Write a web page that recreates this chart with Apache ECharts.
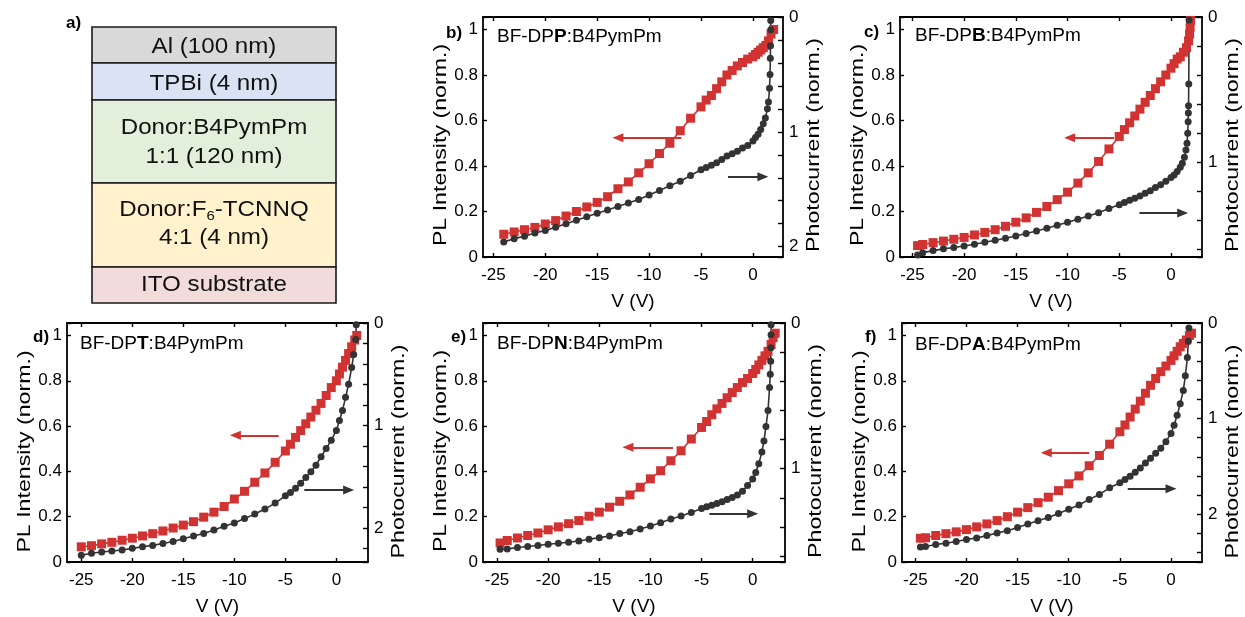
<!DOCTYPE html>
<html>
<head>
<meta charset="utf-8">
<title>PL intensity and photocurrent</title>
<script src="https://cdn.jsdelivr.net/npm/echarts@6/dist/echarts.min.js"></script>
<style>html,body{margin:0;padding:0;background:#fff;}</style>
</head>
<body>
<div id="main" style="width:1245px;height:617px;"></div>
<script>
// voltage steps shared by most sweeps
var stepV = [-24,-23,-22,-21,-20,-19,-18,-17,-16,-15,-14,-13,-12,-11,-10,-9,-8,-7,-6,-5];
var halfV = [-4.5,-4,-3.5,-3,-2.5,-2,-1.5,-1,-0.5];
var xTicks = [-25,-20,-15,-10,-5,0];

// b) BF-DPP
var bPlV = stepV.concat(halfV, [0,0.25,0.5,0.75,1,1.25,1.5,1.75,2]);
var bPl = [0.10,0.11,0.12,0.13,0.145,0.16,0.18,0.20,0.22,0.24,0.265,0.30,0.33,0.37,0.41,0.455,0.50,0.555,0.61,0.66,
  0.69,0.71,0.74,0.77,0.80,0.82,0.84,0.855,0.87,
  0.88,0.89,0.90,0.91,0.92,0.93,0.95,0.98,1.0];
var bPcV = stepV.concat(halfV, [0,0.25,0.5,0.75,1,1.2,1.4,1.5,1.6,1.65,1.68,1.7,1.72,1.72]);
var bPc = [1.96,1.93,1.91,1.88,1.86,1.83,1.80,1.77,1.74,1.71,1.68,1.65,1.62,1.59,1.55,1.51,1.47,1.43,1.38,1.33,
  1.31,1.29,1.27,1.24,1.21,1.19,1.17,1.14,1.12,
  1.08,1.05,1.02,0.98,0.93,0.88,0.80,0.74,0.62,0.50,0.36,0.25,0.11,0.03];

// c) BF-DPB
var cPlV = [-24.5].concat(stepV, halfV, [0,0.3,0.6,0.9,1.2,1.5,1.7,1.8,1.85,1.9]);
var cPl = [0.05,
  0.055,0.063,0.07,0.078,0.086,0.097,0.108,0.12,0.135,0.153,0.172,0.196,0.222,0.252,0.285,0.325,0.37,0.42,0.475,0.53,
  0.56,0.59,0.62,0.65,0.68,0.71,0.74,0.77,0.80,
  0.83,0.85,0.87,0.88,0.90,0.92,0.95,0.98,1.01,1.04];
var cPcV = [-24.5].concat(stepV, halfV, [0,0.3,0.6,0.9,1.1,1.3,1.45,1.55,1.62,1.66,1.68,1.7,1.72,1.75]);
var cPc = [1.636,
  1.62,1.606,1.594,1.585,1.574,1.562,1.549,1.535,1.521,1.505,1.489,1.471,1.452,1.432,1.411,1.39,1.368,1.345,1.317,1.29,
  1.276,1.26,1.246,1.23,1.212,1.194,1.173,1.153,1.13,
  1.104,1.086,1.063,1.033,1.006,0.964,0.914,0.868,0.80,0.72,0.66,0.61,0.46,0.02];

// d) BF-DPT
var dPlV = [-25].concat(stepV, halfV, [0,0.3,0.6,0.9,1.2,1.5,1.8,2.0]);
var dPl = [0.067,0.072,0.08,0.087,0.096,0.105,0.115,0.125,0.137,0.15,0.163,0.178,0.198,0.22,0.245,0.278,0.312,0.352,0.393,0.44,0.49,
  0.52,0.55,0.58,0.61,0.64,0.67,0.70,0.735,0.77,
  0.80,0.83,0.86,0.89,0.92,0.95,0.98,1.0];
var dPcV = [-25].concat(stepV, halfV, [0,0.3,0.6,0.9,1.2,1.5,1.7,1.9,1.95]);
var dPc = [2.265,2.245,2.232,2.222,2.213,2.197,2.181,2.168,2.149,2.13,2.103,2.077,2.052,2.019,1.981,1.949,1.907,1.862,1.814,1.756,1.685,
  1.652,1.611,1.562,1.507,1.449,1.386,1.304,1.224,1.144,
  1.047,0.951,0.854,0.725,0.596,0.435,0.306,0.161,0.016];

// e) BF-DPN
var ePlV = [-24.7].concat(stepV, halfV, [0,0.3,0.6,0.9,1.2,1.5,1.8,2.0,2.2]);
var ePl = [0.084,
  0.095,0.106,0.117,0.128,0.142,0.155,0.169,0.183,0.202,0.22,0.242,0.268,0.296,0.33,0.367,0.403,0.447,0.491,0.543,0.594,
  0.62,0.65,0.676,0.70,0.725,0.748,0.77,0.792,0.81,
  0.832,0.85,0.87,0.89,0.91,0.93,0.96,0.99,1.01];
var ePcV = [-24.7].concat(stepV, halfV, [0,0.3,0.6,0.9,1.1,1.3,1.5,1.65,1.72,1.76,1.78,1.8,1.8]);
var ePc = [1.552,
  1.55,1.541,1.534,1.527,1.518,1.511,1.504,1.496,1.484,1.473,1.461,1.445,1.432,1.413,1.393,1.37,1.345,1.325,1.3,1.273,
  1.261,1.25,1.239,1.227,1.211,1.198,1.18,1.155,1.115,
  1.07,1.025,0.965,0.885,0.81,0.71,0.60,0.443,0.352,0.262,0.17,0.08,0.012];

// f) BF-DPA
var fPlV = [-24.5].concat(stepV, halfV, [0,0.3,0.6,0.9,1.2,1.5,1.8,2.0]);
var fPl = [0.105,
  0.107,0.117,0.125,0.133,0.143,0.155,0.168,0.183,0.2,0.22,0.24,0.262,0.286,0.315,0.345,0.38,0.425,0.47,0.52,0.575,
  0.605,0.64,0.675,0.71,0.745,0.78,0.81,0.84,0.865,
  0.89,0.91,0.93,0.95,0.965,0.98,1.0,1.01];
var fPcV = [-24.5].concat(stepV, halfV, [0,0.3,0.6,0.9,1.2,1.4,1.6,1.7,1.75]);
var fPc = [2.344,
  2.337,2.317,2.303,2.286,2.265,2.248,2.224,2.196,2.172,2.138,2.103,2.068,2.034,1.993,1.948,1.903,1.845,1.793,1.724,1.672,
  1.638,1.603,1.562,1.517,1.465,1.414,1.362,1.31,1.241,
  1.155,1.069,0.966,0.845,0.707,0.552,0.362,0.19,0.052];

// arrows: [tail V, head V, PL level]
var redArrows = [[-6.9,-13,0.524],[-5.5,-9.8,0.524],[-5.65,-9.9,0.559],[-7.8,-12.2,0.506],[-8,-12.2,0.482]];
var blackArrows = [[-2.4,0.96,0.353],[-3.05,1.13,0.193],[-3.14,1.2,0.318],[-4.23,0,0.213],[-4.23,0,0.323]];

var layerText = ['Al (100 nm)','TPBi (4 nm)','Donor:B4PymPm','1:1 (120 nm)','Donor:F6-TCNNQ','4:1 (4 nm)','ITO substrate'];

var FONT = "'Liberation Sans', Arial, Helvetica, sans-serif";
var RED = '#d13232';
var BLACK = '#333333';

var panels = [
  {key:'b', letter:'P', grid:{left:483, top:17, width:300, height:240}, xMin:-26, xMax:2.9, pcMax:2.09,
   plV:bPlV, pl:bPl, pcV:bPcV, pc:bPc, lab:[446,33], title:[497,37]},
  {key:'c', letter:'B', grid:{left:900, top:17, width:302, height:240}, xMin:-26.2, xMax:3.0, pcMax:1.65,
   plV:cPlV, pl:cPl, pcV:cPcV, pc:cPc, lab:[864,32], title:[915,36]},
  {key:'d', letter:'T', grid:{left:67, top:323, width:301, height:241}, xMin:-26.4, xMax:3.1, pcMax:2.33,
   plV:dPlV, pl:dPl, pcV:dPcV, pc:dPc, lab:[33,337], title:[80,344]},
  {key:'e', letter:'N', grid:{left:483, top:323, width:302, height:240}, xMin:-26.37, xMax:3.16, pcMax:1.64,
   plV:ePlV, pl:ePl, pcV:ePcV, pc:ePc, lab:[451,337], title:[497,344]},
  {key:'f', letter:'A', grid:{left:902, top:323, width:300, height:241}, xMin:-26.3, xMax:3.03, pcMax:2.5,
   plV:fPlV, pl:fPl, pcV:fPcV, pc:fPc, lab:[865,337], title:[915,345]}
];

function zip(xs, ys) {
  var out = [];
  for (var i = 0; i < xs.length; i++) out.push([xs[i], ys[i]]);
  return out;
}

var axisLineStyle = {color:'#000', width:1.8};
var tickStyle = {color:'#000', width:1.4};
var labelStyle = {color:'#000', fontSize:17, fontFamily:FONT};
var nameStyle = {color:'#000', fontSize:19, fontFamily:FONT};

var grids = [], xAxes = [], yAxes = [], series = [], graphics = [];

// rotated axis title, stretched along its length like the original
function sideName(text, x, y) {
  return {type:'text', x:x, y:y, rotation:Math.PI / 2, scaleX:1.22,
    style:{text:text, align:'center', verticalAlign:'middle', fontSize:19, fontFamily:FONT, fill:'#000'}};
}

panels.forEach(function (p, i) {
  var g = p.grid;
  grids.push({left:g.left, top:g.top, width:g.width, height:g.height, containLabel:false});
  xAxes.push({
    gridIndex:i, type:'value', position:'bottom', min:p.xMin, max:p.xMax,
    axisLine:{lineStyle:axisLineStyle, onZero:false},
    axisTick:{inside:true, length:4, lineStyle:tickStyle, customValues:xTicks},
    axisLabel:Object.assign({margin:10, customValues:xTicks}, labelStyle),
    splitLine:{show:false},
    name:'V (V)', nameLocation:'middle', nameGap:35, nameTextStyle:nameStyle
  });
  xAxes.push({
    gridIndex:i, type:'value', position:'top', min:p.xMin, max:p.xMax,
    axisLine:{lineStyle:axisLineStyle, onZero:false},
    axisTick:{inside:true, length:4, lineStyle:tickStyle, customValues:xTicks},
    axisLabel:{show:false}, splitLine:{show:false}
  });
  yAxes.push({
    gridIndex:i, type:'value', position:'left', min:0, max:1.055, interval:0.2,
    axisLine:{show:true, lineStyle:axisLineStyle, onZero:false},
    axisTick:{show:true, inside:true, length:4, lineStyle:tickStyle},
    axisLabel:Object.assign({margin:5, formatter:function (v) {
      var r = Math.round(v * 5) / 5;
      return (Math.abs(v - r) < 1e-6 && v < 1.01) ? String(+r.toFixed(1)) : '';
    }}, labelStyle),
    splitLine:{show:false}
  });
  yAxes.push({
    gridIndex:i, type:'value', position:'right', min:0, max:p.pcMax, interval:0.2, inverse:true,
    axisLine:{show:true, lineStyle:axisLineStyle, onZero:false},
    axisTick:{show:true, inside:true, length:5, lineStyle:tickStyle},
    axisLabel:Object.assign({margin:6, formatter:function (v) {
      return Math.abs(v - Math.round(v)) < 1e-6 ? String(Math.round(v)) : '';
    }}, labelStyle),
    splitLine:{show:false}
  });

  var ra = redArrows[i], ba = blackArrows[i];
  series.push({
    type:'line', xAxisIndex:2 * i, yAxisIndex:2 * i, data:zip(p.plV, p.pl),
    symbol:'rect', symbolSize:9, showSymbol:true,
    itemStyle:{color:RED}, lineStyle:{color:RED, width:1.6},
    markLine:{
      silent:true, symbol:['none','triangle'], symbolSize:[9,11], label:{show:false},
      lineStyle:{type:'solid', width:2},
      data:[
        [{coord:[ra[0], ra[2]], lineStyle:{color:RED}, itemStyle:{color:RED}}, {coord:[ra[1], ra[2]]}],
        [{coord:[ba[0], ba[2]], lineStyle:{color:BLACK}, itemStyle:{color:BLACK}}, {coord:[ba[1], ba[2]]}]
      ]
    }
  });
  series.push({
    type:'line', xAxisIndex:2 * i, yAxisIndex:2 * i + 1, data:zip(p.pcV, p.pc),
    symbol:'circle', symbolSize:7, showSymbol:true,
    itemStyle:{color:BLACK}, lineStyle:{color:BLACK, width:1.6}
  });

  var midY = g.top + g.height / 2 + 8;
  graphics.push(sideName('PL Intensity (norm.)', g.left - 42, midY));
  graphics.push(sideName('Photocurrent (norm.)', g.left + g.width + 31, midY));
  graphics.push({type:'text', x:p.lab[0], y:p.lab[1],
    style:{text:p.key + ')', fontSize:17, fontWeight:'bold', fontFamily:FONT, fill:'#000', verticalAlign:'middle'}});
  graphics.push({type:'text', x:p.title[0], y:p.title[1],
    style:{text:'{n|BF-DP}{b|' + p.letter + '}{n|:B4PymPm}', verticalAlign:'middle',
      rich:{n:{fontSize:19, fontFamily:FONT, fill:'#000'}, b:{fontSize:19, fontFamily:FONT, fontWeight:'bold', fill:'#000'}}}});
});

// a) device stack
var stackLeft = 92, stackRight = 336;
var bounds = [27, 63, 100, 183, 267, 303];
var fills = ['#d9d9d9', '#dae3f3', '#e2efda', '#fff2cc', '#f2dcdb'];
for (var k = 0; k < 5; k++) {
  graphics.push({type:'rect', shape:{x:stackLeft, y:bounds[k], width:stackRight - stackLeft, height:bounds[k + 1] - bounds[k]},
    style:{fill:fills[k], stroke:'#1a1a1a', lineWidth:1.6}});
}
var cx = (stackLeft + stackRight) / 2;
var rowY = [47, 84, 128, 157, 210, 238, 285];
var baseRich = {n:{fontSize:21, fontFamily:FONT, fill:'#111', lineHeight:24},
  s:{fontSize:13, fontFamily:FONT, fill:'#111', lineHeight:12, verticalAlign:'bottom'}};
layerText.forEach(function (t, j) {
  var txt = t.indexOf('F6') >= 0 ? '{n|Donor:F}{s|6}{n|-TCNNQ}' : '{n|' + t + '}';
  graphics.push({type:'text', x:cx, y:rowY[j], scaleX:1.15, scaleY:1.05,
    style:{text:txt, align:'center', verticalAlign:'middle', rich:baseRich}});
});
graphics.push({type:'text', x:66, y:23,
  style:{text:'a)', fontSize:17, fontWeight:'bold', fontFamily:FONT, fill:'#000', verticalAlign:'middle'}});

var myChart = echarts.init(document.getElementById('main'));
myChart.setOption({
  animation:false,
  backgroundColor:'#fff',
  grid:grids,
  xAxis:xAxes,
  yAxis:yAxes,
  series:series,
  graphic:graphics
});
</script>
</body>
</html>
